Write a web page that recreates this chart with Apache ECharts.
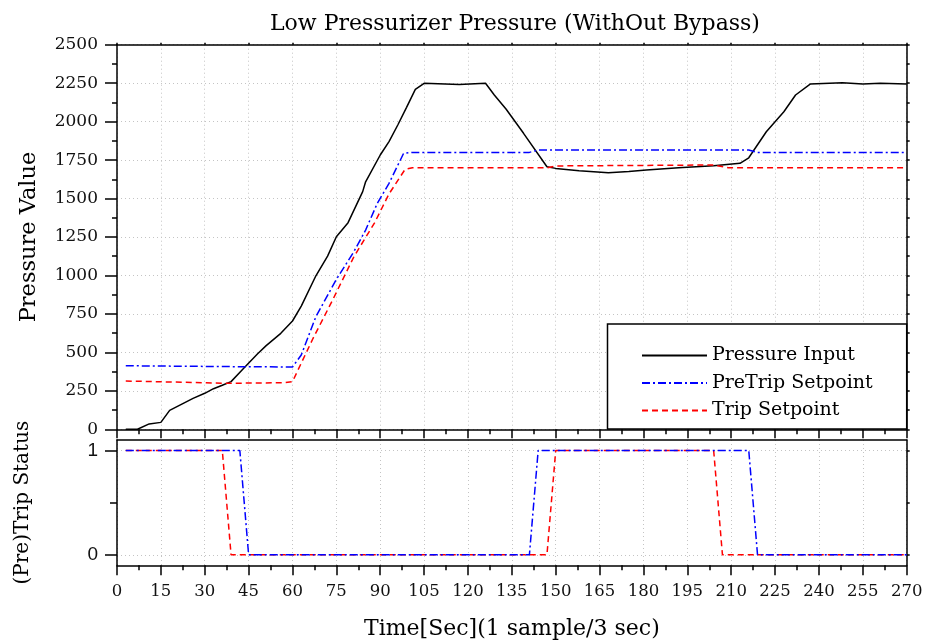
<!DOCTYPE html>
<html>
<head>
<meta charset="utf-8">
<script src="https://cdn.jsdelivr.net/npm/echarts@6/dist/echarts.min.js"></script>
<style>
    html, body { margin: 0; padding: 0; background: #fff; }
    #chart { width: 926px; height: 643px; }
</style>
</head>
<body>
<div id="chart"></div>
<script>
// time axis, seconds
const xTicks = [0, 270, 15];
const pressureTime = [3, 7, 11, 15, 18, 22, 26, 30, 33, 36, 39, 43, 48, 51, 56, 60, 63, 68, 72, 75,
    79, 84, 85, 90, 93, 96, 99, 102, 105, 117, 126, 129, 133, 139, 147, 150, 158, 168, 175, 181,
    192, 204, 213, 216, 222, 228, 232, 237, 248, 255, 261, 270];
const pressureInput = [0, 0, 35, 45, 123, 162, 201, 234, 264, 286, 310, 390, 489, 544, 624, 704, 801, 998, 1126, 1252,
    1343, 1545, 1609, 1783, 1870, 1978, 2093, 2210, 2249, 2242, 2249, 2173, 2082, 1924, 1707, 1696, 1681, 1668, 1675, 1685,
    1700, 1713, 1729, 1765, 1934, 2064, 2173, 2244, 2253, 2244, 2249, 2244];

const preTripTime = [3, 42, 60, 63, 68, 75, 81, 85, 89, 93, 98, 101, 141, 144, 216, 219, 270];
const preTripSetpoint = [413, 407, 405, 483, 732, 975, 1155, 1295, 1469, 1599, 1794, 1800, 1800, 1815, 1815, 1800, 1800];

const tripTime = [3, 38, 57, 60, 67, 74, 81, 88, 93, 98.5, 101, 147, 150, 204, 209, 270];
const tripSetpoint = [314, 299, 303, 310, 590, 851, 1122, 1340, 1530, 1690, 1700, 1700, 1712, 1718, 1700, 1700];

// (pre)trip status, 1 = active
const preTripStatusTime = [3, 42, 45, 141, 144, 216, 219, 270];
const preTripStatus = [1, 1, 0, 0, 1, 1, 0, 0];
const tripStatusTime = [3, 36, 39, 147, 150, 204, 207, 270];
const tripStatus = [1, 1, 0, 0, 1, 1, 0, 0];

const legendNames = ['Pressure Input', 'PreTrip Setpoint', 'Trip Setpoint'];

function zip(xs, ys) {
    let out = [];
    for (let i = 0; i < xs.length; i++) {
        out.push([xs[i], ys[i]]);
    }
    return out;
}

// DejaVu Serif is wide enough to stand in for the spaced-out serif of the original
const serif = 'DejaVu Serif';
const black = '#000';
const plain = function (v) { return String(v); };
const gridLine = { show: true, lineStyle: { color: '#c4c4c4', type: [1, 3], width: 1 } };
const frame = { show: true, onZero: false, lineStyle: { color: black, width: 1.5 } };
const blueDash = [8, 3, 2, 3];
const redDash = [6, 4];

const option = {
    animation: false,
    backgroundColor: '#fff',
    title: {
        text: 'Low Pressurizer Pressure (WithOut Bypass)',
        left: 265,
        top: 8,
        textStyle: { fontFamily: serif, fontSize: 22, fontWeight: 'normal', color: black }
    },
    legend: {
        data: legendNames,
        orient: 'vertical',
        left: 636,
        top: 341,
        itemWidth: 65,
        itemHeight: 14,
        itemGap: 8.5,
        itemStyle: { opacity: 0 },
        textStyle: { fontFamily: serif, fontSize: 19, lineHeight: 18, color: black },
        z: 10
    },
    graphic: [{
        type: 'rect',
        z: 5,
        shape: { x: 607.5, y: 324, width: 299.2, height: 105 },
        style: { fill: '#fff', stroke: black, lineWidth: 1.5 }
    }],
    grid: [
        { left: 117, right: 19.3, top: 44.7, height: 384.6, containLabel: false, outerBoundsMode: 'none' },
        { left: 117, right: 19.3, top: 440, height: 125.3, containLabel: false, outerBoundsMode: 'none' }
    ],
    xAxis: [
        {
            type: 'value', gridIndex: 0, position: 'bottom',
            min: xTicks[0], max: xTicks[1], interval: xTicks[2],
            axisLine: frame,
            axisTick: { show: true, inside: false, length: 9, lineStyle: { color: black, width: 1.5 } },
            minorTick: { show: true, splitNumber: 2, length: 5, lineStyle: { color: black, width: 1.5 } },
            axisLabel: { show: false },
            splitLine: gridLine
        },
        {
            type: 'value', gridIndex: 0, position: 'top',
            min: xTicks[0], max: xTicks[1], interval: xTicks[2],
            axisLine: frame,
            axisTick: { show: true, inside: false, length: 2, lineStyle: { color: black, width: 1.5 } },
            axisLabel: { show: false },
            splitLine: { show: false }
        },
        {
            type: 'value', gridIndex: 1, position: 'bottom',
            min: xTicks[0], max: xTicks[1], interval: xTicks[2],
            axisLine: frame,
            axisTick: { show: true, inside: false, length: 10, lineStyle: { color: black, width: 1.5 } },
            minorTick: { show: true, splitNumber: 2, length: 5, lineStyle: { color: black, width: 1.5 } },
            axisLabel: { show: true, margin: 18, fontFamily: serif, fontSize: 16.5, color: '#111', formatter: plain },
            splitLine: gridLine,
            name: 'Time[Sec](1 sample/3 sec)',
            nameLocation: 'middle',
            nameGap: 53,
            nameTextStyle: { fontFamily: serif, fontSize: 22, color: black }
        },
        {
            type: 'value', gridIndex: 1, position: 'top',
            min: xTicks[0], max: xTicks[1],
            axisLine: frame,
            axisTick: { show: false },
            axisLabel: { show: false },
            splitLine: { show: false }
        }
    ],
    yAxis: [
        {
            type: 'value', gridIndex: 0, position: 'left',
            min: 0, max: 2500, interval: 250,
            axisLine: frame,
            axisTick: { show: true, inside: false, length: 12, lineStyle: { color: black, width: 1.5 } },
            minorTick: { show: true, splitNumber: 2, length: 5, lineStyle: { color: black, width: 1.5 } },
            axisLabel: { margin: 19, fontFamily: serif, fontSize: 17, color: '#111', formatter: plain },
            splitLine: gridLine,
            name: 'Pressure Value',
            nameLocation: 'middle',
            nameGap: 76,
            nameRotate: 90,
            nameTextStyle: { fontFamily: serif, fontSize: 22.5, color: black }
        },
        {
            type: 'value', gridIndex: 0, position: 'right',
            min: 0, max: 2500, interval: 125,
            axisLine: frame,
            axisTick: { show: true, inside: false, length: 3, lineStyle: { color: black, width: 1.5 } },
            axisLabel: { show: false },
            splitLine: { show: false }
        },
        {
            type: 'value', gridIndex: 1, position: 'left',
            min: -0.1, max: 1.1,
            axisLine: frame,
            axisTick: { show: true, inside: false, length: 12, customValues: [0, 1], lineStyle: { color: black, width: 1.5 } },
            axisLabel: { margin: 19, customValues: [0, 1], fontFamily: 'Liberation Sans', fontSize: 19, color: '#111', formatter: plain },
            splitLine: gridLine,
            name: '(Pre)Trip Status',
            nameLocation: 'middle',
            nameGap: 84,
            nameRotate: 90,
            nameTextStyle: { fontFamily: serif, fontSize: 20, color: black }
        },
        {
            type: 'value', gridIndex: 1, position: 'left',
            min: -0.1, max: 1.1,
            axisLine: { show: false },
            axisTick: { show: true, inside: false, length: 7, customValues: [0.5], lineStyle: { color: black, width: 1.5 } },
            axisLabel: { show: false },
            splitLine: { show: false }
        },
        {
            type: 'value', gridIndex: 1, position: 'right',
            min: -0.1, max: 1.1,
            axisLine: frame,
            axisTick: { show: true, inside: false, length: 3, customValues: [0, 0.5, 1], lineStyle: { color: black, width: 1.5 } },
            axisLabel: { show: false },
            splitLine: { show: false }
        }
    ],
    series: [
        {
            name: 'Pressure Input', type: 'line', xAxisIndex: 0, yAxisIndex: 0,
            symbol: 'none', color: black,
            lineStyle: { color: black, width: 1.5 },
            data: zip(pressureTime, pressureInput)
        },
        {
            name: 'PreTrip Setpoint', type: 'line', xAxisIndex: 0, yAxisIndex: 0,
            symbol: 'none', color: '#0000ff',
            lineStyle: { color: '#0000ff', width: 1.5, type: blueDash },
            data: zip(preTripTime, preTripSetpoint)
        },
        {
            name: 'Trip Setpoint', type: 'line', xAxisIndex: 0, yAxisIndex: 0,
            symbol: 'none', color: '#ff0000',
            lineStyle: { color: '#ff0000', width: 1.5, type: redDash },
            data: zip(tripTime, tripSetpoint)
        },
        {
            name: 'Trip Status', type: 'line', xAxisIndex: 2, yAxisIndex: 2,
            symbol: 'none', color: '#ff0000',
            lineStyle: { color: '#ff0000', width: 1.5, type: redDash },
            data: zip(tripStatusTime, tripStatus)
        },
        {
            name: 'PreTrip Status', type: 'line', xAxisIndex: 2, yAxisIndex: 2,
            symbol: 'none', color: '#0000ff',
            lineStyle: { color: '#0000ff', width: 1.5, type: blueDash },
            data: zip(preTripStatusTime, preTripStatus)
        }
    ]
};

let chart = echarts.init(document.getElementById('chart'));
chart.setOption(option);
</script>
</body>
</html>
